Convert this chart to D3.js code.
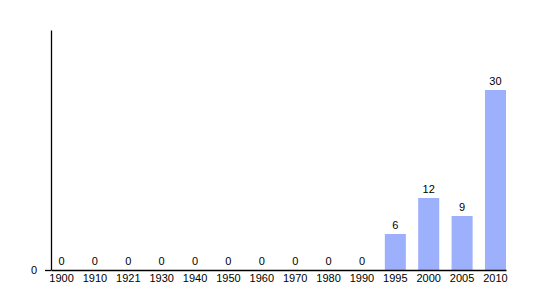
<!DOCTYPE html>
<html>
<head>
  <meta charset="utf-8">
  <script src="https://d3js.org/d3.v7.min.js"></script>
  <style>
    body { margin: 0; background: #fff; }
    text { font-family: "Liberation Sans", Arial, sans-serif; }
  </style>
</head>
<body>
  <script>
    var years = ['1900', '1910', '1921', '1930', '1940', '1950', '1960', '1970', '1980', '1990', '1995', '2000', '2005', '2010'];
    var counts = [0, 0, 0, 0, 0, 0, 0, 0, 0, 0, 6, 12, 9, 30];
    var yTicks = [0];

    var w = 535, h = 300;
    var margin = {top: 30, right: 29, bottom: 30, left: 51};
    var innerW = w - margin.left - margin.right,
      innerH = h - margin.top - margin.bottom;

    var data = years.map(function (y, i) { return {year: y, value: counts[i]}; });

    var x = d3.scaleBand().domain(years).range([0, innerW]).paddingInner(0.37).paddingOuter(0);
    var y = d3.scaleLinear().domain([0, 40]).range([innerH, 0]);

    var svg = d3.select('body').append('svg')
      .attr('width', w)
      .attr('height', h)
      .append('g')
      .attr('transform', 'translate(' + [margin.left, margin.top] + ')');

    svg.selectAll('.bar')
      .data(data)
      .enter().append('rect')
      .attr('class', 'bar')
      .attr('x', function (d) { return x(d.year); })
      .attr('y', function (d) { return y(d.value); })
      .attr('width', x.bandwidth())
      .attr('height', function (d) { return innerH - y(d.value); })
      .style('fill', '#9db0fc');

    svg.selectAll('.val')
      .data(data)
      .enter().append('text')
      .attr('class', 'val')
      .attr('x', function (d) { return x(d.year) + x.bandwidth() / 2; })
      .attr('y', function (d) { return y(d.value) - 5; })
      .attr('text-anchor', 'middle')
      .style('font-size', '11px')
      .text(function (d) { return d.value; });

    var xAxis = svg.append('g')
      .attr('transform', 'translate(0,' + innerH + ')')
      .call(d3.axisBottom(x).tickSize(0).tickSizeOuter(0).tickPadding(4));
    xAxis.selectAll('text').style('font-size', '11px').style('font-family', '"Liberation Sans", Arial, sans-serif').attr('fill', '#000');
    xAxis.select('.domain').attr('stroke', '#000').attr('stroke-width', 1.3);

    var yAxis = svg.append('g')
      .call(d3.axisLeft(y).tickValues(yTicks).tickSize(6).tickSizeOuter(0).tickPadding(8));
    yAxis.selectAll('text').style('font-size', '11px').style('font-family', '"Liberation Sans", Arial, sans-serif').attr('fill', '#000');
    yAxis.selectAll('line, .domain').attr('stroke', '#000').attr('stroke-width', 1.3);
  </script>
</body>
</html>
